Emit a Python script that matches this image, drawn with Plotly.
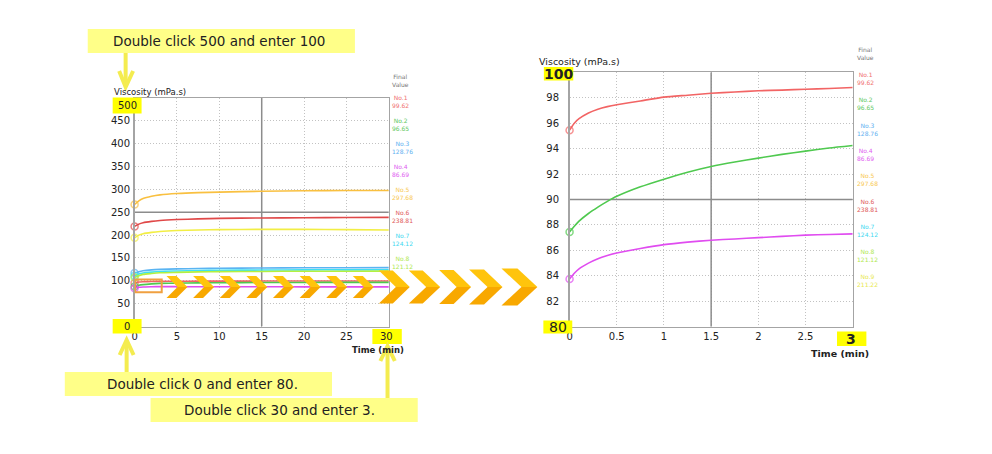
import plotly.graph_objects as go

# ---------------- data ----------------
series_names = ["No.1", "No.2", "No.3", "No.4", "No.5", "No.6", "No.7", "No.8", "No.9"]
final_values = ["99.62", "96.65", "128.76", "86.69", "297.68", "238.81", "124.12", "121.12", "211.22"]
series_colors = ["#f26464", "#4fc94f", "#5ab4f2", "#e04cf0", "#f9c040",
                 "#e04848", "#3ee0f2", "#b4f040", "#f2ee44"]
label_colors = ["#f07070", "#60c860", "#60b0f0", "#e060f0", "#f8c850",
                "#e05858", "#40d8f0", "#b0e850", "#e8e850"]

left_time = [0, 0.5, 1, 2, 3, 5, 7.5, 10, 15, 20, 25, 30]
left_no1 = [95.4, 97.4, 98.0, 98.5, 98.8, 99.0, 99.2, 99.3, 99.4, 99.5, 99.6, 99.6]
left_no2 = [87.5, 90.3, 91.7, 93.3, 94.3, 95.0, 95.5, 95.8, 96.2, 96.4, 96.6, 96.65]
left_no3 = [117, 120, 122, 124, 125, 126, 127, 127.5, 128, 128.5, 128.7, 128.8]
left_no4 = [83.8, 85.8, 86.5, 87.0, 87.3, 87.2, 87.1, 87.0, 86.9, 86.8, 86.7, 86.7]
left_no5 = [267, 275, 280, 285, 288, 291, 293, 294, 296, 297, 297.5, 297.7]
left_no6 = [219, 224, 227, 230, 232, 234, 235.5, 236.5, 237.5, 238, 238.5, 238.8]
left_no7 = [111, 115, 117, 119, 120.5, 121.5, 122.5, 123, 123.5, 124, 124, 124.1]
left_no8 = [107, 111, 114, 116, 117.5, 118.5, 119.5, 120, 120.5, 121, 121, 121.1]
left_no9 = [194, 200, 203, 206, 208, 210, 211, 212, 212.5, 212.5, 212, 211.2]
left_series = [left_no1, left_no2, left_no3, left_no4, left_no5,
               left_no6, left_no7, left_no8, left_no9]

right_time = [0, 0.05, 0.1, 0.2, 0.3, 0.4, 0.5, 0.75, 1, 1.25, 1.5, 1.75, 2, 2.25, 2.5, 2.75, 3]
right_no1 = [95.45, 96.0, 96.35, 96.8, 97.1, 97.3, 97.45, 97.75, 98.05, 98.2, 98.35,
             98.45, 98.55, 98.6, 98.67, 98.73, 98.8]
right_no2 = [87.45, 87.9, 88.3, 88.9, 89.4, 89.85, 90.25, 91.0, 91.6, 92.15, 92.6,
             92.95, 93.25, 93.55, 93.8, 94.05, 94.25]
right_no4 = [83.75, 84.2, 84.55, 85.0, 85.35, 85.6, 85.8, 86.15, 86.45, 86.65, 86.8,
             86.9, 87.0, 87.1, 87.2, 87.25, 87.3]
right_series = {0: right_no1, 1: right_no2, 3: right_no4}

left_x_ticks = [0, 5, 10, 15, 20, 25]
left_y_ticks = [50, 100, 150, 200, 250, 300, 350, 400, 450]
right_x_ticks = [0, 0.5, 1, 1.5, 2, 2.5]
right_x_labels = ["0", "0.5", "1", "1.5", "2", "2.5"]
right_y_ticks = [82, 84, 86, 88, 90, 92, 94, 96, 98]

banner_texts = ["Double click 500 and enter 100",
                "Double click 0 and enter 80.",
                "Double click 30 and enter 3."]

# ---------------- figure ----------------
W, H = 992, 454
FONT = "DejaVu Sans"
fig = go.Figure()


def first_marker(n):
    return [7] + [0] * (n - 1)


for i, ys in enumerate(left_series):
    fig.add_trace(go.Scatter(
        x=left_time, y=ys, xaxis="x", yaxis="y", mode="lines+markers", cliponaxis=False,
        line=dict(color=series_colors[i], width=1.6, shape="spline", smoothing=0.6),
        marker=dict(symbol="circle-open", size=first_marker(len(ys)),
                    color=series_colors[i], line=dict(width=1.5, color=series_colors[i])),
        showlegend=False, hoverinfo="skip"))

for i, ys in right_series.items():
    fig.add_trace(go.Scatter(
        x=right_time, y=ys, xaxis="x2", yaxis="y2", mode="lines+markers", cliponaxis=False,
        line=dict(color=series_colors[i], width=1.6, shape="spline", smoothing=0.6),
        marker=dict(symbol="circle-open", size=first_marker(len(ys)),
                    color=series_colors[i], line=dict(width=1.5, color=series_colors[i])),
        showlegend=False, hoverinfo="skip"))

# invisible trace for the pixel overlay axes
fig.add_trace(go.Scatter(x=[], y=[], xaxis="x3", yaxis="y3", showlegend=False, hoverinfo="skip"))

axis_common = dict(showline=True, mirror=True, linecolor="#a4a4a4", linewidth=1.5,
                   showgrid=True, gridcolor="#c2c2c2", griddash="1px,2px", gridwidth=1,
                   zeroline=False, ticks="", fixedrange=True,
                   tickfont=dict(family=FONT, size=10, color="#222"))

fig.update_layout(
    width=W, height=H, autosize=False,
    margin=dict(l=0, r=0, t=0, b=0),
    paper_bgcolor="white", plot_bgcolor="rgba(0,0,0,0)",
    showlegend=False,
    xaxis=dict(domain=[132 / W, 387 / W], range=[0, 30], anchor="y",
               tickvals=left_x_ticks, **axis_common),
    yaxis=dict(domain=[1 - 326.5 / H, 1 - 98 / H], range=[0, 500], anchor="x",
               tickvals=left_y_ticks, ticklabelstandoff=1, **axis_common),
    xaxis2=dict(domain=[568.3 / W, 852.3 / W], range=[0, 3], anchor="y2",
                tickvals=right_x_ticks, ticktext=right_x_labels, **axis_common),
    yaxis2=dict(domain=[1 - 326.7 / H, 1 - 72.3 / H], range=[80, 100], anchor="x2",
                tickvals=right_y_ticks, ticklabelstandoff=7, **axis_common),
    xaxis3=dict(domain=[0, 1], range=[0, W], anchor="y3", visible=False, fixedrange=True),
    yaxis3=dict(domain=[0, 1], range=[H, 0], anchor="x3", visible=False, fixedrange=True),
)

shapes = []
# darker middle grid lines
MID = dict(color="#8c8c8c", width=1.5)
shapes.append(dict(type="line", xref="x", yref="y", x0=15, x1=15, y0=0, y1=500,
                   line=MID, layer="between"))
shapes.append(dict(type="line", xref="x", yref="y", x0=0, x1=30, y0=250, y1=250,
                   line=MID, layer="between"))
shapes.append(dict(type="line", xref="x2", yref="y2", x0=1.5, x1=1.5, y0=80, y1=100,
                   line=MID, layer="between"))
shapes.append(dict(type="line", xref="x2", yref="y2", x0=0, x1=3, y0=90, y1=90,
                   line=MID, layer="between"))
# orange zoom box on left chart
shapes.append(dict(type="rect", xref="x", yref="y", x0=0.05, x1=3.2, y0=75, y1=103,
                   line=dict(color="#f0a040", width=2), fillcolor="rgba(0,0,0,0)", layer="above"))

PX = dict(xref="x3", yref="y3", layer="above")


def chevron(x0, top, bot, w, d):
    mid = (top + bot) / 2
    up = (f"M {x0} {top} L {x0 + w} {top} L {x0 + w + d} {mid} "
          f"L {x0 + d} {mid} Z")
    lo = (f"M {x0 + d} {mid} L {x0 + w + d} {mid} L {x0 + w} {bot} "
          f"L {x0} {bot} Z")
    return [dict(type="path", path=up, fillcolor="#ffc40c", line=dict(width=0), **PX),
            dict(type="path", path=lo, fillcolor="#f8a800", line=dict(width=0), **PX)]


for k in range(8):
    shapes += chevron(164 + 26.7 * k, 276, 298, 10, 11)
big = [(377, 270.5, 303.5, 14, 17), (407, 270.5, 303.5, 14, 17.5), (437.5, 270, 304, 14.5, 17.5),
       (467.5, 269.5, 304.5, 15, 18.5), (500, 268.5, 305.5, 16, 20)]
for b in big:
    shapes += chevron(*b)

# yellow banners
BANNER = "#ffff88"
shapes.append(dict(type="rect", x0=85, x1=353, y0=29, y1=53, fillcolor=BANNER,
                   line=dict(width=0), **PX))
shapes.append(dict(type="rect", x0=62, x1=330, y0=372, y1=396, fillcolor=BANNER,
                   line=dict(width=0), **PX))
shapes.append(dict(type="rect", x0=148, x1=416, y0=398, y1=422, fillcolor=BANNER,
                   line=dict(width=0), **PX))
# number boxes
BOX = "#ffff00"
for (a, b, c, d) in [(110, 139, 97.5, 113.5), (110, 139, 319, 333.5), (370.5, 400, 329, 344),
                     (542.5, 572, 67, 80.5), (542, 571, 320.5, 333.5), (836.5, 866, 331.5, 346)]:
    shapes.append(dict(type="rect", x0=a, x1=b, y0=c, y1=d, fillcolor=BOX,
                       line=dict(width=0), **PX))

# arrows
ARROW = "#f4ec50"
for p in ["M 123 53 L 123 85", "M 116.5 71 L 123 87 L 130.5 71",
          "M 124 372 L 124 342", "M 117 355 L 124 340 L 131 355",
          "M 385.7 398 L 385.7 348", "M 378.5 361 L 385.7 346 L 393 361"]:
    shapes.append(dict(type="path", path=p, line=dict(color=ARROW, width=4),
                       fillcolor="rgba(0,0,0,0)", **PX))

fig.update_layout(shapes=shapes)

ann = []


def txt(x, y, s, size, color="#222", xanchor="center", bold=False):
    if bold:
        s = f"<b>{s}</b>"
    ann.append(dict(x=x, y=y, xref="x3", yref="y3", text=s, showarrow=False,
                    xanchor=xanchor, yanchor="middle",
                    font=dict(family=FONT, size=size, color=color)))


txt(217, 41, banner_texts[0], 13.5)
txt(200, 384, banner_texts[1], 13.5)
txt(277.5, 410, banner_texts[2], 13.5)

txt(124.5, 105.5, "500", 10)
txt(124.5, 326.5, "0", 10)
txt(385, 336.5, "30", 10)
txt(557.5, 73.8, "100", 14, bold=True)
txt(556.5, 327, "80", 14)
txt(851, 338.8, "3", 14, bold=True)

txt(109, 92, "Viscosity (mPa.s)", 8.5, xanchor="left")
txt(536, 61, "Viscosity (mPa.s)", 9.5, xanchor="left")
txt(348, 350, "<b>Time (min)</b>", 8.5, xanchor="left")
txt(808, 353, "<b>Time (min)</b>", 9.5, xanchor="left")

# final value columns
txt(388, 80.5, "Final<br>Value", 6, color="#777", xanchor="left")
for i in range(8):
    txt(388, 101 + 23 * i, f"{series_names[i]}<br>{final_values[i]}", 6,
        color=label_colors[i], xanchor="left")
txt(855, 53.5, "Final<br>Value", 6, color="#777", xanchor="left")
for i in range(9):
    txt(855, 78.5 + 25.3 * i, f"{series_names[i]}<br>{final_values[i]}", 6,
        color=label_colors[i], xanchor="left")

fig.update_layout(annotations=ann)

fig.write_html("out.html", config={"displayModeBar": False, "staticPlot": True},
               post_script="document.body.style.margin='0';document.body.style.overflow='hidden';")
